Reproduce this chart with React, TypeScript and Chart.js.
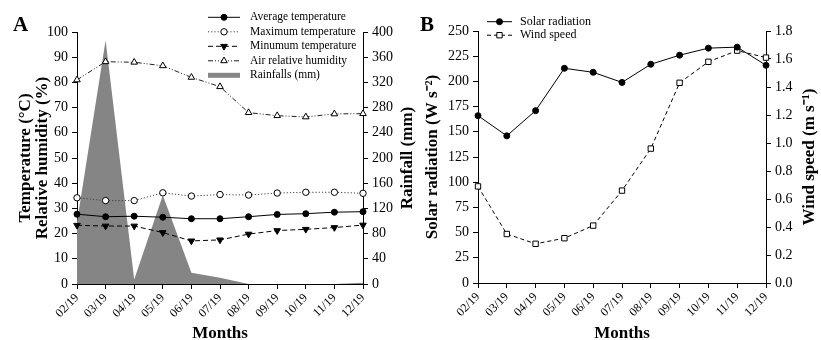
import React, { useEffect, useRef } from 'react';
import { Chart, registerables } from 'chart.js';
import { drawPoint } from 'chart.js/helpers';

Chart.register(...registerables);

const FAMILY = '"Liberation Serif", "Times New Roman", serif';

// ---------- data ----------
const months = ['02/19', '03/19', '04/19', '05/19', '06/19', '07/19', '08/19', '09/19', '10/19', '11/19', '12/19'];

const avgTemperature = [27.7, 26.7, 26.9, 26.5, 25.9, 25.9, 26.7, 27.6, 27.9, 28.5, 28.7];
const maxTemperature = [34.2, 33.1, 33.1, 36.2, 34.9, 35.5, 35.3, 36.1, 36.4, 36.4, 36.0];
const minTemperature = [23.3, 23.0, 23.0, 20.4, 17.1, 17.5, 19.8, 21.2, 21.7, 22.4, 23.4];
const airHumidity = [81.0, 88.2, 88.0, 86.6, 82.0, 78.3, 68.0, 66.8, 66.3, 67.5, 67.6];
const rainfall = [98, 387, 7, 141, 18, 10, 0, 0, 0, 0, 2];

const solarRadiation = [166, 146, 171, 213, 209, 199, 217, 226, 233, 234, 216];
const windSpeed = [0.69, 0.35, 0.28, 0.32, 0.41, 0.66, 0.96, 1.43, 1.58, 1.66, 1.61];

// axis ranges (tick labels)
const tempAxis = { min: 0, max: 100, step: 10 };
const rainAxis = { min: 0, max: 400, step: 40 };
const solarAxis = { min: 0, max: 250, step: 25 };
const windAxis = { min: 0, max: 1.8, step: 0.2 };

// ---------- custom legend + right-title plugin ----------
const customLegend = {
  id: 'customLegend',
  afterDraw(chart: any, _args: any, opts: any) {
    if (!opts || !opts.enabled) return;
    const { ctx } = chart;
    const { x, y, rowHeight, lineLength, textGap, fontSize, sideTitle } = opts;
    ctx.save();
    chart.data.datasets.forEach((ds: any, i: number) => {
      const cy = y + i * rowHeight;
      if (ds.fill) {
        ctx.fillStyle = ds.backgroundColor;
        ctx.fillRect(x, cy - 2.5, lineLength, 5);
      } else {
        ctx.strokeStyle = ds.borderColor;
        ctx.lineWidth = ds.borderWidth;
        ctx.setLineDash(ds.borderDash || []);
        ctx.beginPath();
        ctx.moveTo(x, cy);
        ctx.lineTo(x + lineLength, cy);
        ctx.stroke();
        ctx.setLineDash([]);
        ctx.fillStyle = ds.pointBackgroundColor;
        ctx.strokeStyle = ds.pointBorderColor;
        ctx.lineWidth = 1;
        drawPoint(ctx, {
          pointStyle: ds.pointStyle,
          radius: ds.pointRadius,
          rotation: ds.pointRotation || 0,
          borderWidth: 1,
        } as any, x + lineLength / 2, cy);
      }
      ctx.fillStyle = '#000';
      ctx.font = `${fontSize}px ${FAMILY}`;
      ctx.textBaseline = 'middle';
      ctx.textAlign = 'left';
      ctx.fillText(ds.label, x + lineLength + textGap, cy);
    });
    if (sideTitle) {
      const area = chart.chartArea;
      ctx.translate(sideTitle.x, (area.top + area.bottom) / 2);
      ctx.rotate(-Math.PI / 2);
      ctx.fillStyle = '#000';
      ctx.font = `bold ${sideTitle.fontSize}px ${FAMILY}`;
      ctx.textAlign = 'center';
      ctx.textBaseline = 'middle';
      ctx.fillText(sideTitle.text, 0, 0);
    }
    ctx.restore();
  },
};

// ---------- shared helpers ----------
const tickGrid = { display: true, drawOnChartArea: false, drawTicks: true, tickLength: 5, color: '#000', lineWidth: 1 };
const axisBorder = { display: true, color: '#000', width: 1 };
const tickFont = { family: FAMILY, size: 14 };
const titleFont = { family: FAMILY, size: 17, weight: 'bold' as const, lineHeight: 1.0 };

function xScale(height: number) {
  return {
    type: 'category',
    offset: false,
    grid: tickGrid,
    border: axisBorder,
    ticks: { color: '#000', font: { family: FAMILY, size: 12 }, minRotation: 45, maxRotation: 45, autoSkip: false, padding: 2 },
    title: { display: true, text: 'Months', color: '#000', font: { family: FAMILY, size: 17, weight: 'bold', lineHeight: 0.8 }, padding: 0 },
    afterFit: (s: any) => { s.height = height; },
  };
}

function yScale(position: 'left' | 'right', axis: any, title: any, width: number, titlePad: number, fmt?: (v: number) => string) {
  return {
    type: 'linear',
    position,
    min: axis.min,
    max: axis.max,
    grid: tickGrid,
    border: axisBorder,
    ticks: {
      stepSize: axis.step,
      color: '#000',
      font: tickFont,
      padding: 4,
      callback: fmt ? (v: any) => fmt(Number(v)) : (v: any) => String(v),
    },
    title: { display: title !== null, text: title || '', color: '#000', font: titleFont, padding: { top: titlePad, bottom: 0 } },
    afterFit: (s: any) => { s.width = width; },
  };
}

function configA(): any {
  return {
    type: 'line',
    data: {
      labels: months,
      datasets: [
        {
          label: 'Average temperature', data: avgTemperature, yAxisID: 'y',
          borderColor: '#000', borderWidth: 1, borderDash: [],
          pointStyle: 'circle', pointRadius: 3, pointBackgroundColor: '#000', pointBorderColor: '#000', tension: 0, fill: false,
        },
        {
          label: 'Maximum temperature', data: maxTemperature, yAxisID: 'y',
          borderColor: '#444', borderWidth: 1, borderDash: [1.2, 2],
          pointStyle: 'circle', pointRadius: 3.2, pointBackgroundColor: '#fff', pointBorderColor: '#000', tension: 0, fill: false,
        },
        {
          label: 'Minumum temperature', data: minTemperature, yAxisID: 'y',
          borderColor: '#000', borderWidth: 1, borderDash: [5, 3],
          pointStyle: 'triangle', pointRotation: 180, pointRadius: 3.8, pointBackgroundColor: '#000', pointBorderColor: '#000', tension: 0, fill: false,
        },
        {
          label: 'Air relative humidity', data: airHumidity, yAxisID: 'y',
          borderColor: '#222', borderWidth: 1, borderDash: [5, 2, 1, 2, 1, 2],
          pointStyle: 'triangle', pointRadius: 3.8, pointBackgroundColor: '#fff', pointBorderColor: '#000', tension: 0, fill: false,
        },
        {
          label: 'Rainfalls (mm)', data: rainfall, yAxisID: 'y2',
          borderColor: 'rgba(0,0,0,0)', borderWidth: 0, backgroundColor: '#858585',
          pointRadius: 0, tension: 0, fill: 'origin', order: 10,
        },
      ],
    },
    options: {
      responsive: false,
      animation: false,
      layout: { padding: { top: 32, left: 0, right: 0, bottom: 0 } },
      plugins: {
        legend: { display: false },
        tooltip: { enabled: false },
        customLegend: {
          enabled: true, x: 208, y: 17.3, rowHeight: 14.5, lineLength: 32, textGap: 10, fontSize: 11.5,
          sideTitle: { text: 'Rainfall (mm)', x: 408, fontSize: 17 },
        },
      },
      scales: {
        x: xScale(56),
        y: yScale('left', tempAxis, ['Temperature (°C)', 'Relative humidity (%)'], 77, 17),
        y2: yScale('right', rainAxis, null, 57, 0),
      },
    },
    plugins: [customLegend],
  };
}

function configB(): any {
  return {
    type: 'line',
    data: {
      labels: months,
      datasets: [
        {
          label: 'Solar radiation', data: solarRadiation, yAxisID: 'y',
          borderColor: '#000', borderWidth: 1, borderDash: [],
          pointStyle: 'circle', pointRadius: 3, pointBackgroundColor: '#000', pointBorderColor: '#000', tension: 0, fill: false,
        },
        {
          label: 'Wind speed', data: windSpeed, yAxisID: 'y2',
          borderColor: '#000', borderWidth: 1, borderDash: [4, 3],
          pointStyle: 'rect', pointRadius: 3.8, pointBackgroundColor: '#fff', pointBorderColor: '#000', tension: 0, fill: false,
        },
      ],
    },
    options: {
      responsive: false,
      animation: false,
      layout: { padding: { top: 31, left: 0, right: 0, bottom: 0 } },
      plugins: {
        legend: { display: false },
        tooltip: { enabled: false },
        customLegend: {
          enabled: true, x: 77, y: 21.7, rowHeight: 13.5, lineLength: 25, textGap: 8, fontSize: 12,
          sideTitle: { text: 'Wind speed (m s⁻¹)', x: 400, fontSize: 17 },
        },
      },
      scales: {
        x: xScale(57),
        y: yScale('left', solarAxis, 'Solar radiation (W s⁻²)', 68, 14),
        y2: yScale('right', windAxis, null, 55, 0, (v) => v.toFixed(1)),
      },
    },
    plugins: [customLegend],
  };
}

function Panel({ left, width, makeConfig }: { left: number; width: number; makeConfig: () => any }) {
  const ref = useRef<HTMLCanvasElement>(null);
  useEffect(() => {
    const chart = new Chart(ref.current as HTMLCanvasElement, makeConfig());
    return () => chart.destroy();
  }, []);
  return (
    <canvas
      ref={ref}
      width={width}
      height={340}
      style={{ position: 'absolute', left, top: 0, width, height: 340 }}
    />
  );
}

const letterStyle: React.CSSProperties = {
  position: 'absolute',
  fontFamily: FAMILY,
  fontWeight: 'bold',
  fontSize: 21,
  lineHeight: '21px',
  margin: 0,
  color: '#000',
};

export default function App() {
  return (
    <div style={{ position: 'fixed', left: 0, top: 0, width: 821, height: 340, background: '#fff', overflow: 'hidden' }}>
      <Panel left={0} width={420} makeConfig={configA} />
      <Panel left={410} width={411} makeConfig={configB} />
      <div style={{ ...letterStyle, left: 13, top: 14 }}>A</div>
      <div style={{ ...letterStyle, left: 420, top: 14 }}>B</div>
    </div>
  );
}
